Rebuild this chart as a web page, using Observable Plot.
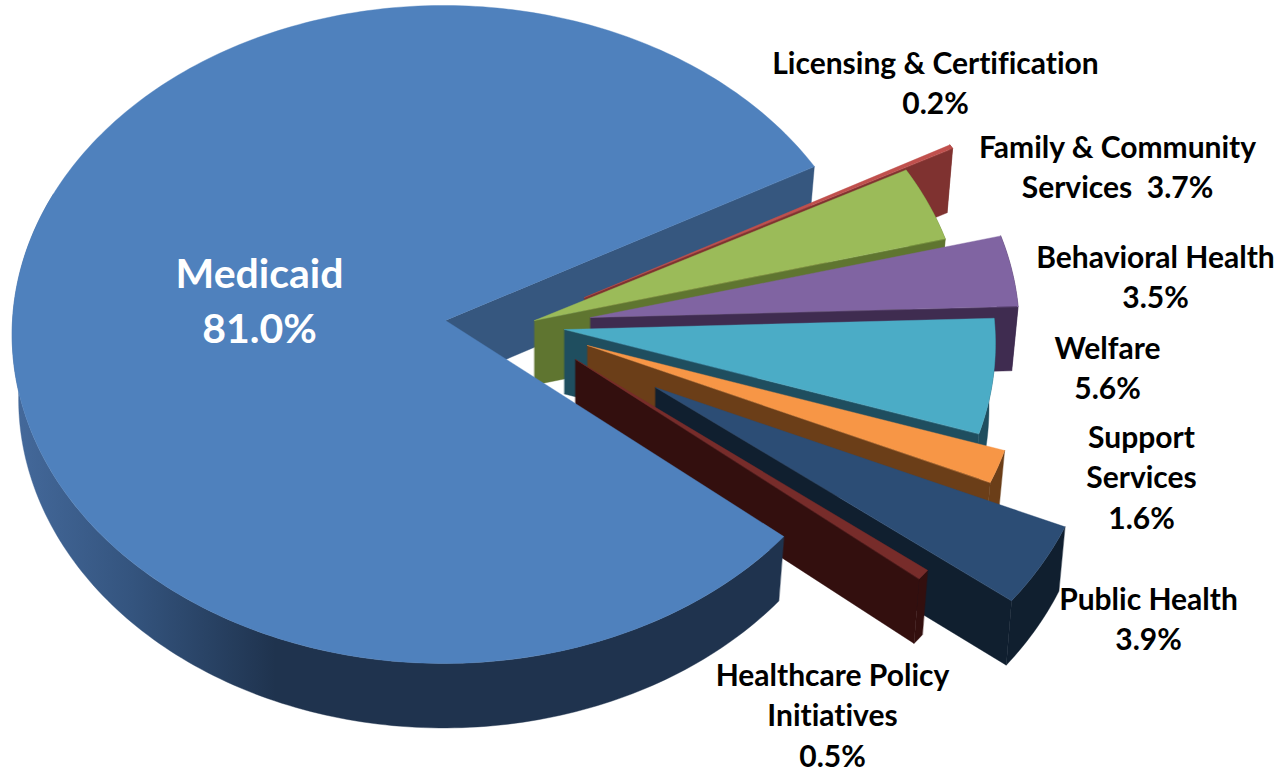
<!DOCTYPE html>
<html>
<head>
<meta charset="utf-8">
<style>
  html, body { margin: 0; padding: 0; background: #fff; }
  svg { display: block; }
  text { font-variant-ligatures: none; }
</style>
<script src="https://cdn.jsdelivr.net/npm/d3@7"></script>
<script src="https://cdn.jsdelivr.net/npm/@observablehq/plot@0.6"></script>
</head>
<body>
<div id="chart"></div>
<script>
// Budget shares by programme, in percent, clockwise from the upper right.
const categories = ["Licensing & Certification", "Family & Community", "Behavioral Health", "Welfare", "Support", "Public Health", "Healthcare Policy", "Medicaid"];
const shares = [0.2, 3.7, 3.5, 5.6, 1.6, 3.9, 0.5, 81.0];
// Second line of a label (if any) and what separates it from the percentage.
const secondLines = ["", "\nServices", "", "", "\nServices", "", "\nInitiatives", ""];
const percentJoin = ["\n", "  ", "\n", "\n", "\n", "\n", "\n", "\n"];

// Face colours: top surface and cut wall.
const topColors = ["#C0504D", "#9BBB59", "#8064A2", "#4BACC6", "#F79646", "#2C4D75", "#772C2A", "#4F81BD"];
const wallColors = ["#7F3230", "#5F7530", "#3F2C50", "#1F4E5F", "#6B3E18", "#101F2F", "#330F0E", "#36577F"];

// Where each wedge has been pulled out to, relative to the pie's hub.
const pullX = [139, 89, 145, 119, 142, 210, 130, 0];
const pullY = [-23, 0, -3, 9, 25, 67, 39, 0];

// Label anchors on the canvas.
const labelX = [935, 1117, 1155, 1107, 1141, 1148, 832, 259];
const labelY = [81, 165, 275, 366, 475, 617, 713, 297];

// Tilted-disc projection.
const hub = {x: 445, y: 320};
const radiusX = 431, radiusY = 328.4, perspective = 0.0425, skewX = -2;
const depth = 64.5, taper = 0.985, growth = 0.0004;
const startAngle = (90 - 28.6) * Math.PI / 180;

const arcs = d3.pie().value((d) => d).sort(null)
  .startAngle(startAngle).endAngle(startAngle + 2 * Math.PI)(shares);

const wedges = arcs.map((arc, i) => {
  const ax = hub.x + pullX[i], ay = hub.y + pullY[i];
  const f = 1 + pullY[i] * growth;
  const rim = (a) => {
    const t = a - Math.PI / 2, u = Math.cos(t), v = Math.sin(t), s = 1 / (1 - perspective * v);
    return {x: ax + skewX + radiusX * u * s * f, y: ay + radiusY * v * s * f};
  };
  const drop = (p) => ({x: ax + (p.x - ax) * taper, y: p.y + depth});
  return {i, ax, ay, start: arc.startAngle, end: arc.endAngle, rim, drop, apex: {x: ax, y: ay}};
});

const sweep = (w, a0, a1) => {
  const n = Math.max(2, Math.ceil(Math.abs(a1 - a0) / (Math.PI / 180)));
  return d3.range(n + 1).map((k) => w.rim(a0 + (a1 - a0) * k / n));
};
const facePoints = (w) => [w.apex, ...sweep(w, w.start, w.end)];
const cutPoints = (w, a) => {
  const p = w.rim(a);
  return [w.apex, p, w.drop(p), w.drop(w.apex)];
};
const rimPoints = (w, a0, a1) => {
  const arc = sweep(w, a0, a1);
  return [...arc, ...arc.map(w.drop).reverse()];
};
const poly = (points, fill) => Plot.line(points, {x: "x", y: "y", fill, stroke: fill, strokeWidth: 0.4, curve: "linear-closed"});

const pulled = wedges.slice(0, 7);
const medicaid = wedges[7];

// Shading of the main disc's outer wall, lighter towards the left.
const rimShade = () => {
  const defs = d3.create("svg:defs");
  const g = defs.append("linearGradient").attr("id", "rimShade")
    .attr("gradientUnits", "userSpaceOnUse")
    .attr("x1", 15).attr("x2", 275).attr("y1", 0).attr("y2", 0);
  g.append("stop").attr("offset", "0%").attr("stop-color", "#44699B");
  g.append("stop").attr("offset", "45%").attr("stop-color", "#34547E");
  g.append("stop").attr("offset", "100%").attr("stop-color", "#1F334E");
  return defs.node();
};

const labels = categories.map((name, i) => ({
  x: labelX[i],
  y: labelY[i],
  text: `${name}${secondLines[i]}${percentJoin[i]}${shares[i].toFixed(1)}%`,
  main: i === 7
}));

const marks = [
  rimShade,
  // The main disc's far cut wall sits behind every pulled-out wedge.
  poly(cutPoints(medicaid, medicaid.end), wallColors[7])
];
for (const w of pulled) {
  marks.push(poly(rimPoints(w, w.start, w.end), wallColors[w.i]));
  marks.push(poly(cutPoints(w, w.end), wallColors[w.i]));
  marks.push(poly(facePoints(w), topColors[w.i]));
}
marks.push(
  poly(rimPoints(medicaid, medicaid.start, medicaid.start + 2.85), "url(#rimShade)"),
  poly(facePoints(medicaid), topColors[7]),
  Plot.text(labels.filter((d) => !d.main), {
    x: "x", y: "y", text: "text", fill: "#000", fontFamily: "Lato", fontWeight: "bold",
    fontSize: 30, lineHeight: 1.34, lineAnchor: "middle", textAnchor: "middle"
  }),
  Plot.text(labels.filter((d) => d.main), {
    x: "x", y: "y", text: "text", fill: "#fff", fontFamily: "Lato", fontWeight: "bold",
    fontSize: 41, lineHeight: 1.34, lineAnchor: "middle", textAnchor: "middle"
  })
);

const chart = Plot.plot({
  width: 1282,
  height: 771,
  margin: 0,
  style: {background: "#fff", overflow: "visible"},
  x: {domain: [0, 1282], range: [0, 1282], axis: null},
  y: {domain: [0, 771], range: [0, 771], axis: null},
  marks
});
document.getElementById("chart").append(chart);
</script>
</body>
</html>
